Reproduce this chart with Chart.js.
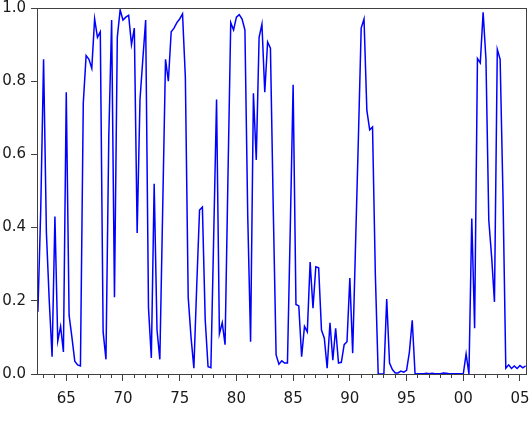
<!DOCTYPE html>
<html>
<head>
<meta charset="utf-8">
<script src="https://cdn.jsdelivr.net/npm/chart.js@4.4.1/dist/chart.umd.min.js"></script>
<style>
  html, body { margin: 0; padding: 0; background: #fff; }
  #wrap { width: 530px; height: 434px; }
</style>
</head>
<body>
<div id="wrap"><canvas id="chartProb" width="530" height="434"></canvas></div>
<script>
// Probabilidade trimestral, 1962 T3 .. 2005 T3
const startYear = 1962.5;
const step = 0.25;
const prob = [
  0.17, 0.45,                   // 1962
  0.86, 0.385, 0.20, 0.047,     // 1963
  0.43, 0.09, 0.13, 0.06,       // 1964
  0.77, 0.16, 0.10, 0.035,      // 1965
  0.025, 0.022, 0.74, 0.87,     // 1966
  0.86, 0.835, 0.97, 0.92,      // 1967
  0.935, 0.115, 0.04, 0.65,     // 1968
  0.967, 0.21, 0.92, 0.995,     // 1969
  0.967, 0.975, 0.98, 0.90,     // 1970
  0.945, 0.385, 0.75, 0.86,     // 1971
  0.967, 0.18, 0.044, 0.52,     // 1972
  0.12, 0.04, 0.45, 0.86,       // 1973
  0.80, 0.935, 0.945, 0.96,     // 1974
  0.97, 0.984, 0.81, 0.21,      // 1975
  0.10, 0.016, 0.24, 0.448,     // 1976
  0.456, 0.148, 0.02, 0.017,    // 1977
  0.38, 0.75, 0.11, 0.14,       // 1978
  0.08, 0.53, 0.96, 0.94,       // 1979
  0.975, 0.982, 0.97, 0.94,     // 1980
  0.43, 0.088, 0.767, 0.585,    // 1981
  0.92, 0.956, 0.77, 0.907,     // 1982
  0.89, 0.45, 0.052, 0.027,     // 1983
  0.036, 0.03, 0.03, 0.40,      // 1984
  0.79, 0.19, 0.186, 0.047,     // 1985
  0.13, 0.115, 0.306, 0.18,     // 1986
  0.293, 0.29, 0.12, 0.098,     // 1987
  0.016, 0.14, 0.038, 0.125,    // 1988
  0.03, 0.032, 0.08, 0.088,     // 1989
  0.262, 0.057, 0.35, 0.64,     // 1990
  0.945, 0.97, 0.72, 0.667,     // 1991
  0.675, 0.27, 0.0, 0.0,        // 1992
  0.0, 0.205, 0.03, 0.012,      // 1993
  0.003, 0.003, 0.008, 0.005,   // 1994
  0.01, 0.06, 0.147, 0.0,       // 1995
  0.001, 0.001, 0.001, 0.002,   // 1996
  0.001, 0.002, 0.001, 0.001,   // 1997
  0.001, 0.003, 0.002, 0.001,   // 1998
  0.001, 0.001, 0.001, 0.001,   // 1999
  0.0, 0.055, 0.0, 0.425,       // 2000
  0.125, 0.862, 0.85, 0.988,    // 2001
  0.86, 0.42, 0.32, 0.197,      // 2002
  0.887, 0.86, 0.49, 0.016,     // 2003
  0.025, 0.015, 0.022, 0.015,   // 2004
  0.023, 0.017, 0.022           // 2005
];
const xMin = 1962.42, xMax = 2005.53;
const yTicks = [0, 0.2, 0.4, 0.6, 0.8, 1.0];

const points = prob.map((v, i) => ({ x: startYear + i * step, y: v }));

const axisColor = '#404040';
const font = { family: 'DejaVu Sans', size: 15 };

// moldura em volta da área do gráfico
const frame = {
  id: 'frame',
  afterDraw(chart) {
    const a = chart.chartArea, ctx = chart.ctx;
    ctx.save();
    ctx.strokeStyle = axisColor;
    ctx.lineWidth = 1;
    ctx.strokeRect(Math.round(a.left) + 0.5, Math.round(a.top) + 0.5,
      Math.round(a.right - a.left), Math.round(a.bottom - a.top));
    ctx.restore();
  }
};

new Chart(document.getElementById('chartProb'), {
  type: 'line',
  data: {
    datasets: [{
      data: points,
      borderColor: '#0000ff',
      borderWidth: 1.5,
      pointRadius: 0,
      tension: 0,
      fill: false
    }]
  },
  options: {
    responsive: false,
    animation: false,
    devicePixelRatio: 1,
    layout: { padding: { top: 8, right: 4, left: 0, bottom: 0 } },
    plugins: { legend: { display: false }, tooltip: { enabled: false } },
    scales: {
      x: {
        type: 'linear', position: 'bottom', weight: 1,
        min: xMin, max: xMax,
        grid: { drawOnChartArea: false, tickLength: 7, color: axisColor },
        border: { color: axisColor },
        ticks: {
          stepSize: 5, includeBounds: false, maxRotation: 0, padding: 9,
          color: '#1a1a1a', font,
          callback: v => String(v % 100).padStart(2, '0')
        },
        afterFit: s => { s.height = 60; s.paddingLeft = 0; s.paddingRight = 0; }
      },
      xMinor: {
        type: 'linear', position: 'bottom', weight: 0,
        min: xMin, max: xMax,
        grid: { drawOnChartArea: false, tickLength: 4, color: axisColor },
        border: { display: false },
        ticks: { stepSize: 1, includeBounds: false, display: false },
        afterFit: s => { s.height = 0; s.paddingLeft = 0; s.paddingRight = 0; }
      },
      y: {
        min: 0, max: 1,
        grid: { drawOnChartArea: false, tickLength: 6, color: axisColor },
        border: { color: axisColor },
        afterBuildTicks: s => { s.ticks = yTicks.map(v => ({ value: v })); },
        ticks: { color: '#1a1a1a', font, padding: 5, callback: v => v.toFixed(1) },
        afterFit: s => { s.width = 37; s.paddingTop = 0; s.paddingBottom = 0; }
      }
    }
  },
  plugins: [frame]
});
</script>
</body>
</html>
